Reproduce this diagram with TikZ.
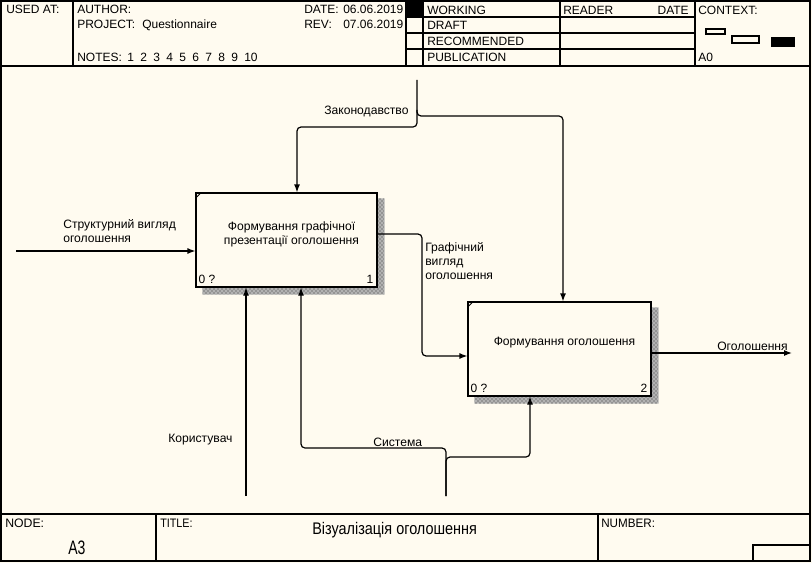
\documentclass[tikz,border=0pt]{standalone}
\usepackage{fontspec}
\setmainfont{Liberation Sans}
\usepackage{graphicx}
\usetikzlibrary{arrows.meta,positioning,calc,patterns}
\definecolor{paper}{RGB}{255,251,240}

\begin{document}
\begin{tikzpicture}[x=0.75pt,y=-0.75pt,>={Latex[length=6pt,width=4.5pt]},
        frame/.style={line width=0.8pt},
        txt/.style={inner sep=0pt,anchor=base west,font=\fontsize{9}{10.5}\selectfont},
        func/.style={draw,line width=0.9pt,fill=paper,minimum height=70.5pt,inner sep=0pt},
        functext/.style={inner sep=0pt,align=center,font=\fontsize{9.1}{10.5}\selectfont},
        flow/.style={->,line width=0.9pt,rounded corners=3pt},
        shade/.style={fill=black!30,postaction={pattern=crosshatch dots,pattern color=black!80}}]
        \useasboundingbox[fill=paper] (0,0) rectangle (812,563);

        % frame
        \draw[frame] (1,1) rectangle (810,561);
        \draw[frame] (1,66) -- (810,66) (1,514) -- (810,514);
        \draw[frame] (73,1) -- (73,66) (406,1) -- (406,66) (423,1) -- (423,66)
              (560,1) -- (560,66) (695,1) -- (695,66);
        \draw[frame] (406,17) -- (695,17) (406,33) -- (695,33) (406,49) -- (695,49);
        \fill (406,1) rectangle (423,17);
        \draw[frame] (156,514) -- (156,561) (598,514) -- (598,561);
        \draw[frame] (753,545) rectangle (810,561);
        \draw[frame] (706,29) rectangle (725,34) (732,36) rectangle (759,43);
        \fill (771,37) rectangle (795,47);

        % header texts
        \node[txt] (usedat) at (6,14) {USED AT:};
        \node[txt] (author) at (77,14) {AUTHOR:};
        \node[txt] (project) at (77,29) {PROJECT:};
        \node[txt] (projname) at (142,29) {Questionnaire};
        \node[txt] (notes) at (77,62) {NOTES:};
        \foreach \n [count=\i from 0] in {1,...,10}
            \node[txt] at (127+13*\i,62) {\n};
        \node[txt] (date) at (304,14) {DATE:};
        \node[txt] (dateval) at (343,14) {06.06.2019};
        \node[txt] (rev) at (304,29) {REV:};
        \node[txt] (revval) at (343,29) {07.06.2019};
        \node[txt] (working) at (427,15) {WORKING};
        \node[txt] (draft) at (427,30) {DRAFT};
        \node[txt] (recomm) at (427,46) {RECOMMENDED};
        \node[txt] (public) at (427,62) {PUBLICATION};
        \node[txt] (reader) at (563,15) {READER};
        \node[txt,anchor=base east] (rdate) at (689,15) {DATE};
        \node[txt] (context) at (698,15) {CONTEXT:};
        \node[txt] (ctxnode) at (698,62) {A0};

        % footer texts
        \node[txt,font=\fontsize{9.2}{11}\selectfont] (nodelbl) at (5,527) {NODE:};
        \node[txt,font=\fontsize{14.6}{16}\selectfont] (nodeval) at (68,554) {\scalebox{0.72}[1]{A3}};
        \node[txt,font=\fontsize{9.2}{11}\selectfont] (titlelbl) at (160,527) {\scalebox{0.88}[1]{TITLE:}};
        \node[txt,font=\fontsize{12.6}{14}\selectfont] (title) at (312,534) {\scalebox{0.86}[1]{Візуалізація оголошення}};
        \node[txt,font=\fontsize{9.2}{11}\selectfont] (numlbl) at (601,527) {\scalebox{0.95}[1]{NUMBER:}};

        % activities
        \node[func,minimum width=135.75pt] (F1) at (286.5,240) {};
        \node[func,minimum width=137.25pt] (F2) at (559.5,349) {};
        \foreach \f/\k in {F1/1,F2/2} {
            \fill[shade] ($(\f.north east)+(0.6,6)$) -- ($(\f.north east)+(7,6)$) -- ($(\f.south east)+(7,7)$)
                -- ($(\f.south west)+(7,7)$) -- ($(\f.south west)+(7,0.6)$) -- ($(\f.south east)+(0.6,0.6)$) -- cycle;
            \draw[line width=0.6pt] ($(\f.north west)+(0,6)$) -- ($(\f.north west)+(6,0)$);
            \node[txt] at ($(\f.south west)+(3,-4)$) {0 ?};
            \node[txt,anchor=base east] at ($(\f.south east)+(-4,-4)$) {\k};
        }
        \node[functext] (F1text) at ($(F1.center)+(5,-6)$) {Формування графічної\\презентації оголошення};
        \node[functext] (F2text) at ($(F2.center)+(5,-6)$) {Формування оголошення};

        % ends of the arrows
        \coordinate (inStruct) at (16,251);
        \coordinate (ctlLaw) at (417,80);
        \coordinate (ctlSplit) at (417,110);
        \coordinate (outAd) at (792,353);
        \coordinate (mechUser) at (246,496);
        \coordinate (mechSys) at (446,496);

        \draw[flow] (inStruct) -- (F1.west |- inStruct);
        \draw[flow] (ctlLaw) |- (297,127) -- (F1.north -| 297,0);
        \draw[flow] (ctlSplit) |- (563,116) -- (F2.north -| 563,0);
        \draw[flow] (F1.east |- 0,234) -| (422,356) -- (F2.west |- 0,356);
        \draw[flow] (F2.east |- outAd) -- (outAd);
        \draw[flow] (mechUser) -- (F1.south -| mechUser);
        \draw[flow] (mechSys) |- (301,448) -- (F1.south -| 301,0);
        \draw[flow] (mechSys) |- (530,457) -- (F2.south -| 530,0);

        % arrow labels (base = last line)
        \node[txt,align=left,font=\fontsize{9.1}{10.5}\selectfont] (lblStruct) at (63,242) {Структурний вигляд\\оголошення};
        \node[txt,font=\fontsize{9.1}{10.5}\selectfont] (lblLaw) at (324,115) {Законодавство};
        \node[txt,align=left,font=\fontsize{9.1}{10.5}\selectfont] (lblGraph) at (425,279) {Графічний\\вигляд\\оголошення};
        \node[txt,font=\fontsize{9.1}{10.5}\selectfont] (lblAd) at (717,350) {Оголошення};
        \node[txt,font=\fontsize{9.1}{10.5}\selectfont] (lblUser) at (168,442) {Користувач};
        \node[txt,font=\fontsize{9.1}{10.5}\selectfont] (lblSys) at (373,446) {Система};
\end{tikzpicture}
\end{document}
